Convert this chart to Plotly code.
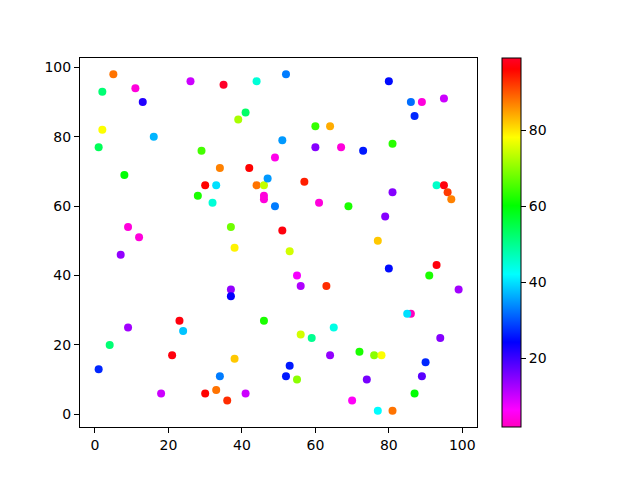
import plotly.graph_objects as go

x_vals = [5, 2, 11, 26, 35, 44, 13, 41, 39, 2, 16, 1, 29, 8, 34, 42, 30, 33, 44, 46,
          28, 32, 47, 49, 46, 46, 49, 9, 12, 37, 51,
          52, 80, 86, 89, 95, 87, 60, 64, 51, 60, 67, 73, 81, 57, 81, 93, 95, 96, 97,
          61, 69, 79,
          7, 38, 37, 37, 46, 23, 24, 9, 4, 21, 38, 1, 34, 18, 30, 33, 36, 41,
          77, 53, 80, 93, 91, 55, 56, 63, 99, 86, 85, 65, 56, 59, 94, 64, 72, 76, 78,
          90, 53, 52, 55, 74, 89, 87, 70, 77, 81]
y_vals = [98, 93, 94, 96, 95, 96, 90, 87, 85, 82, 80, 77, 76, 69, 71, 71, 66, 66, 66, 66,
          63, 61, 68, 60, 63, 62, 74, 54, 51, 54, 53,
          98, 96, 90, 90, 91, 86, 83, 83, 79, 77, 77, 76, 78, 67, 64, 66, 66, 64, 62,
          61, 60, 57,
          46, 48, 36, 34, 27, 27, 24, 25, 20, 17, 16, 13, 11, 6, 6, 7, 4, 6,
          50, 47, 42, 43, 40, 40, 37, 37, 36, 29, 29, 25, 23, 22, 22, 17, 18, 17, 17,
          15, 14, 11, 10, 10, 11, 6, 4, 1, 1]
c_vals = [88, 52, 4, 10, 99, 45, 22, 53, 72, 78, 37, 54, 65, 60, 87, 96, 96, 40, 88, 74,
          62, 45, 35, 33, 4, 4, 5, 4, 4, 68, 97,
          33, 25, 32, 4, 10, 27, 64, 84, 35, 15, 4, 26, 63, 94, 15, 46, 97, 92, 87,
          4, 62, 15,
          14, 79, 14, 24, 62, 97, 38, 13, 52, 97, 82, 27, 33, 10, 96, 88, 93, 10,
          82, 75, 25, 97, 62, 7, 12, 93, 13, 2, 40, 44, 75, 50, 15, 14, 62, 70, 78,
          27, 26, 26, 70, 16, 18, 60, 6, 42, 88]

# gist_rainbow_r
colorscale = [
    [0.0, "rgb(255,0,191)"],
    [0.046, "rgb(255,0,255)"],
    [0.23, "rgb(0,0,255)"],
    [0.414, "rgb(0,255,255)"],
    [0.6, "rgb(0,255,0)"],
    [0.785, "rgb(255,255,0)"],
    [0.97, "rgb(255,0,0)"],
    [1.0, "rgb(255,0,41)"],
]

fig = go.Figure(go.Scatter(
    x=x_vals, y=y_vals, mode="markers",
    marker=dict(
        size=8, color=c_vals, colorscale=colorscale, line=dict(width=0),
        colorbar=dict(
            x=(494 - 72) / 397, xanchor="left", xpad=0, ypad=0,
            y=0.5, yanchor="middle", len=1, lenmode="fraction",
            thickness=19, outlinewidth=1, outlinecolor="black",
            ticks="outside", ticklen=5, tickcolor="black",
            tickvals=[20, 40, 60, 80],
            tickfont=dict(family="DejaVu Sans", size=14, color="black"),
        ),
    ),
))

axis_common = dict(
    showgrid=False, zeroline=False, showline=True, linecolor="black", linewidth=1,
    mirror=True, ticks="outside", ticklen=5, tickcolor="black",
    tickfont=dict(family="DejaVu Sans", size=14, color="black"),
)
fig.update_xaxes(range=[-4.08, 104.0], tickvals=[0, 20, 40, 60, 80, 100], **axis_common)
fig.update_yaxes(range=[-3.66, 102.7], tickvals=[0, 20, 40, 60, 80, 100], **axis_common)

fig.update_layout(
    width=640, height=480,
    margin=dict(l=72, r=171, t=50, b=61),
    plot_bgcolor="white", paper_bgcolor="white",
    showlegend=False,
)

fig.write_html("out.html")
